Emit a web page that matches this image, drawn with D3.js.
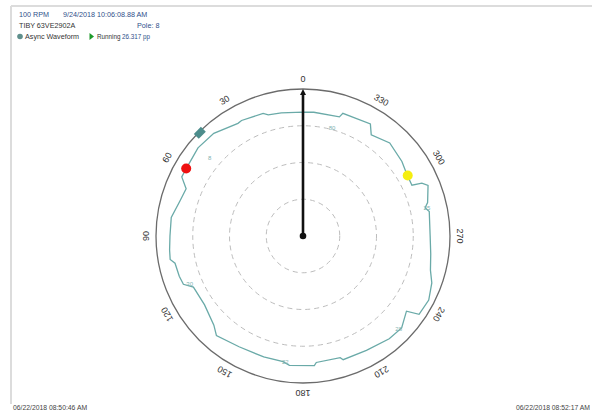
<!DOCTYPE html>
<html>
<head>
<meta charset="utf-8">
<script src="https://cdn.jsdelivr.net/npm/d3@7"></script>
<style>
  body { margin: 0; background: #fff; }
  svg { display: block; font-family: "Liberation Sans", Arial, sans-serif; }
</style>
</head>
<body>
<svg width="592" height="412"></svg>
<script>
// waveform: angle in degrees (counter-clockwise from top) and amplitude
const waveAngles = [0, 10, 16, 18, 28, 30, 41, 50, 60, 64, 68, 74, 82, 90, 96, 100, 102, 108, 112, 115, 125, 135, 139, 150, 162, 171, 174, 185, 186, 197, 198, 209, 220, 227, 234, 236, 243, 250, 255, 262, 270, 281, 283, 285, 292, 294, 295, 301, 307, 317, 326, 329, 342, 343, 355, 360];
const waveValues = [33.7, 34.0, 34.3, 35.1, 35.6, 35.4, 37.0, 37.3, 36.7, 36.7, 34.3, 34.8, 36.2, 36.2, 36.5, 36.7, 35.6, 35.4, 35.1, 32.9, 32.7, 34.3, 35.9, 34.8, 34.6, 34.6, 35.4, 35.4, 34.6, 34.6, 35.4, 35.6, 36.5, 36.7, 34.8, 38.1, 38.4, 37.3, 35.9, 35.1, 34.6, 35.0, 34.1, 35.1, 36.7, 35.4, 32.7, 32.9, 33.7, 34.6, 33.2, 35.6, 35.1, 33.9, 33.8, 33.7];

const ringValues = [10, 20, 30];
const degreeTicks = [0, 30, 60, 90, 120, 150, 180, 210, 240, 270, 300, 330];

const poleAngles = [345, 50, 113, 172, 226, 283];
const poleValues = [30.5, 33.2, 33.5, 34.6, 36.2, 34.6];
const poleLabels = ['80', '8', '30', '22', '28', '25'];

const markers = [
  { angle: 60, value: 36.7, color: '#ee1111' },
  { angle: 300, value: 32.9, color: '#f5ee10' }
];
const squareMarker = { angle: 45, value: 39.7 };
const pointerAngle = 0;
const maxValue = 40;

const headerLines = [
  { x: 19, y: 17, text: '100 RPM', color: '#2f4f8a' },
  { x: 63, y: 17, text: '9/24/2018 10:06:08.88 AM', color: '#2f4f8a' },
  { x: 19, y: 28, text: 'TIBY 63VE2902A', color: '#333' },
  { x: 137, y: 28, text: 'Pole:  8', color: '#2f4f8a' },
  { x: 25, y: 39, text: 'Async Waveform', color: '#333' },
  { x: 97, y: 39, text: 'Running', color: '#333' },
  { x: 122, y: 39, text: '26.317', color: '#2f4f8a' },
  { x: 143, y: 39, text: 'pp', color: '#2f4f8a' }
];

const svg = d3.select('svg');
const cx = 303, cy = 236, outerR = 147;

// frame
svg.append('line').attr('x1', 11).attr('y1', 6).attr('x2', 592).attr('y2', 6)
  .attr('stroke', '#dcdcdc').attr('stroke-width', 2);
svg.append('line').attr('x1', 11).attr('y1', 6).attr('x2', 11).attr('y2', 404)
  .attr('stroke', '#dcdcdc').attr('stroke-width', 2);

// header
svg.selectAll('.hdr')
  .data(headerLines)
  .enter()
  .append('text')
  .attr('class', 'hdr')
  .attr('x', d => d.x)
  .attr('y', d => d.y)
  .attr('font-size', d => d.y === 39 && d.x > 90 ? 6.3 : 7.2)
  .attr('fill', d => d.color)
  .text(d => d.text);

svg.append('circle').attr('cx', 20).attr('cy', 36.5).attr('r', 2.8).attr('fill', '#5f8f8c');
svg.append('path').attr('d', 'M89.5,33 L89.5,40 L94,36.5 Z').attr('fill', '#1e9a2a');

// footer
svg.append('text').attr('x', 13).attr('y', 410).attr('font-size', 6.8).attr('fill', '#444')
  .text('06/22/2018 08:50:46 AM');
svg.append('text').attr('x', 590).attr('y', 410).attr('font-size', 6.8).attr('fill', '#444')
  .attr('text-anchor', 'end').text('06/22/2018 08:52:17 AM');

const g = svg.append('g').attr('transform', `translate(${cx}, ${cy})`);

const r = d3.scaleLinear().domain([0, maxValue]).range([0, outerR]);
const toRad = a => -a * Math.PI / 180;
const px = (a, v) => -r(v) * Math.sin(a * Math.PI / 180);
const py = (a, v) => -r(v) * Math.cos(a * Math.PI / 180);

// rings
g.selectAll('.ring')
  .data(ringValues)
  .enter()
  .append('circle')
  .attr('r', d => r(d))
  .attr('fill', 'none')
  .attr('stroke', '#bdbdbd')
  .attr('stroke-width', 1)
  .attr('stroke-dasharray', '5,4');

g.append('circle')
  .attr('r', r(maxValue))
  .attr('fill', 'none')
  .attr('stroke', '#6b6b6b')
  .attr('stroke-width', 1.3);

// degree labels
g.selectAll('.deg')
  .data(degreeTicks)
  .enter()
  .append('text')
  .attr('class', 'deg')
  .attr('transform', d => `translate(${px(d, maxValue + 2.7)}, ${py(d, maxValue + 2.7)}) rotate(${-d})`)
  .attr('text-anchor', 'middle')
  .attr('dy', '0.35em')
  .attr('font-size', 9)
  .attr('fill', '#333')
  .text(d => d);

// waveform
const wave = waveAngles.map((a, i) => [toRad(a), r(waveValues[i])]);
g.append('path')
  .datum(wave)
  .attr('d', d3.lineRadial().angle(d => d[0]).radius(d => d[1]).curve(d3.curveLinearClosed))
  .attr('fill', 'none')
  .attr('stroke', '#6aaaa8')
  .attr('stroke-width', 1.3);

// pole labels
g.selectAll('.pole')
  .data(poleAngles)
  .enter()
  .append('text')
  .attr('class', 'pole')
  .attr('x', (d, i) => px(d, poleValues[i]))
  .attr('y', (d, i) => py(d, poleValues[i]))
  .attr('text-anchor', 'middle')
  .attr('dy', '0.35em')
  .attr('font-size', 6)
  .attr('fill', '#7fb2b0')
  .text((d, i) => poleLabels[i]);

// square marker
g.append('rect')
  .attr('x', -5).attr('y', -3.5).attr('width', 10).attr('height', 7)
  .attr('transform', `translate(${px(squareMarker.angle, squareMarker.value)}, ${py(squareMarker.angle, squareMarker.value)}) rotate(${-squareMarker.angle})`)
  .attr('fill', '#4d8d8c');

// dot markers
g.selectAll('.mk')
  .data(markers)
  .enter()
  .append('circle')
  .attr('cx', d => px(d.angle, d.value))
  .attr('cy', d => py(d.angle, d.value))
  .attr('r', 5)
  .attr('fill', d => d.color);

// pointer
const tipX = px(pointerAngle, maxValue), tipY = py(pointerAngle, maxValue);
g.append('line')
  .attr('x1', 0).attr('y1', 0)
  .attr('x2', tipX).attr('y2', tipY + 4)
  .attr('stroke', '#111')
  .attr('stroke-width', 2.6);
g.append('path')
  .attr('d', `M${tipX},${tipY} L${tipX - 3},${tipY + 6} L${tipX + 3},${tipY + 6} Z`)
  .attr('fill', '#111');
g.append('circle').attr('r', 3.3).attr('fill', '#111');
</script>
</body>
</html>
